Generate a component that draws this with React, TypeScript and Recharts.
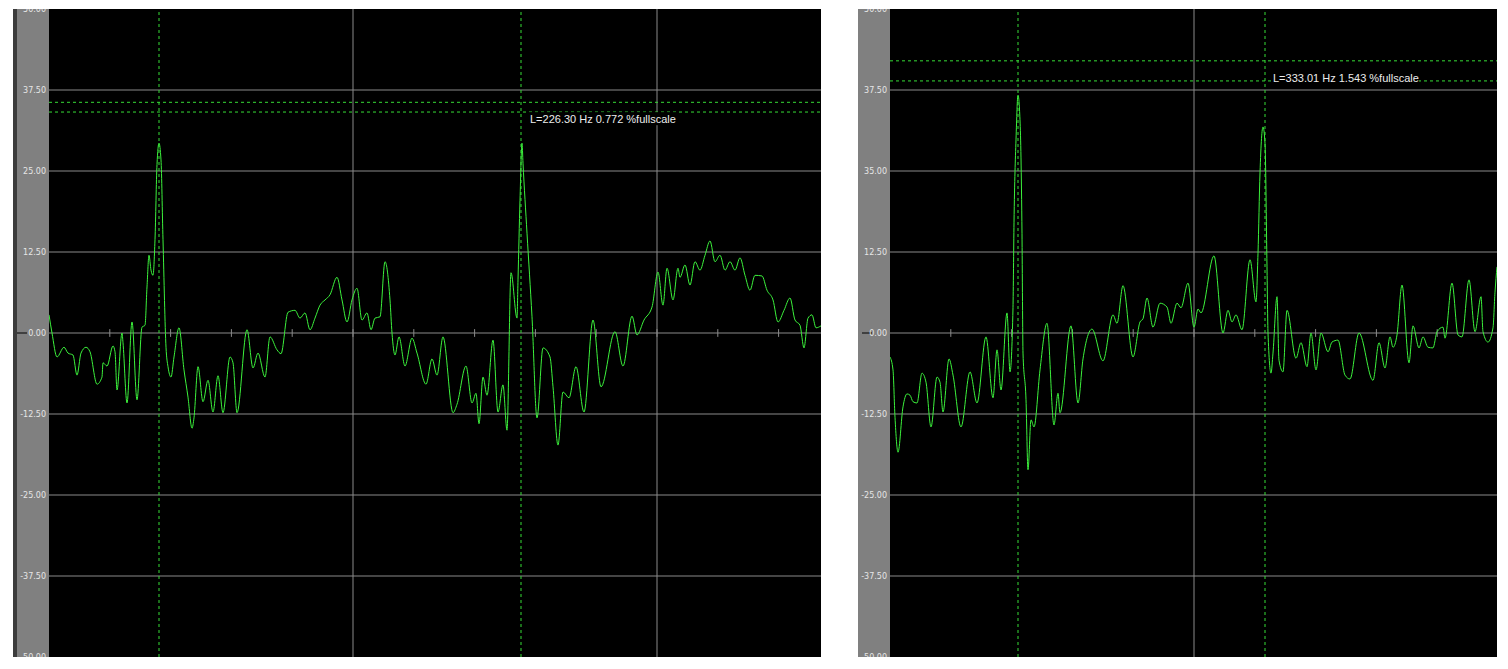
import {
  LineChart,
  Line,
  XAxis,
  YAxis,
  CartesianGrid,
  ReferenceLine,
  ReferenceDot,
} from "recharts";

const yTicks = [50, 37.5, 25, 12.5, 0, -12.5, -25, -37.5, -50];
const leftTickLabels = ["50.00", "37.50", "25.00", "12.50", "0.00", "-12.50", "-25.00", "-37.50", "-50.00"];
const rightTickLabels = ["50.00", "37.50", "35.00", "12.50", "0.00", "-12.50", "-25.00", "-37.50", "-50.00"];
const gridLevels = [37.5, 25, 12.5, 0, -12.5, -25, -37.5];
const majorBins = [304, 608];
const minorStep = 60.8;

// left spectrum
const leftBins = [
  0, 3, 8, 15, 19, 24, 28, 32, 37, 41, 48, 53, 54, 58, 64, 66, 68, 73, 74, 78,
  83, 88, 93, 96, 98, 100, 102, 104, 106, 108, 110, 112, 114, 117, 119, 122, 125, 130, 135, 139,
  143, 145, 149, 154, 159, 164, 169, 174, 181, 184, 188, 198, 204, 209, 216, 221, 228, 232, 239, 246,
  251, 256, 261, 266, 271, 276, 281, 288, 293, 298, 303, 308, 313, 318, 322, 326, 331, 336, 341, 343,
  346, 350, 356, 363, 368, 377, 383, 388, 394, 404, 408, 417, 423, 427, 430, 434, 438, 444, 449, 454,
  458, 462, 468, 469, 471, 473, 474, 478, 483, 488, 494, 501, 504, 509, 514, 520, 527, 535, 544, 552,
  566, 574, 583, 588, 595, 603, 609, 614, 618, 624, 629, 631, 636, 641, 646, 651, 656, 661, 666, 671,
  676, 681, 686, 691, 696, 701, 706, 713, 718, 724, 729, 735, 741, 746, 751, 755, 759, 763, 767, 772,
];
const leftLevels = [
  2.8, 0, -3.7, -2.2, -3.1, -3.4, -6.5, -3.1, -2.2, -2.9, -7.9, -6.8, -4.6, -5.1, -2.0, -2.9, -8.8, 0, -1.5, -10.8,
  1.7, -10.3, 0.9, 1.2, 7.1, 12.0, 9.7, 8.9, 14.4, 26.0, 29.3, 26.7, 14.4, -2.2, -5.2, -6.8, -3.7, 0.8, -5.7, -9.9,
  -14.7, -13.1, -5.2, -10.6, -7.3, -12.2, -6.6, -12.3, -3.7, -4.6, -12.3, 0.5, -5.4, -3.1, -6.8, -0.6, -2.6, -3.2, 3.2, 3.5,
  2.3, 3.1, 0.5, 2.3, 4.3, 5.1, 5.9, 8.6, 5.1, 1.7, 5.1, 6.9, 2.0, 3.1, 0.5, 2.3, 2.5, 11.0, 5.1, 0,
  -3.4, -0.6, -5.1, -0.8, -3.1, -7.9, -4.0, -6.5, -0.6, -12.3, -11.0, -5.1, -10.8, -9.3, -14.0, -6.8, -9.6, -1.1, -12.2, -8.0,
  -15.0, 9.3, 2.3, 8.2, 20.5, 29.3, 26.2, 15.4, 2.5, -13.1, -2.3, -3.7, -8.3, -17.3, -9.1, -10.0, -5.2, -12.2, 2.0, -8.3,
  0.2, -5.1, 2.6, -0.3, 2.0, 4.0, 9.4, 4.3, 10.0, 5.1, 10.0, 8.6, 10.5, 7.4, 11.0, 9.7, 12.0, 14.2, 11.0, 12.0,
  9.7, 11.0, 9.7, 11.6, 8.9, 6.6, 8.9, 8.8, 6.6, 5.1, 1.7, 3.5, 5.4, 2.0, 1.2, -2.3, 2.3, 2.8, 0.8, 1.1,
];

// right spectrum
const rightBins = [
  0, 3, 5, 8, 13, 17, 20, 23, 27, 32, 36, 41, 47, 50, 53, 59, 63, 71, 80, 87,
  96, 103, 107, 111, 117, 120, 123, 124, 126, 128, 130, 132, 133, 136, 138, 141, 144, 150, 157, 164,
  168, 170, 181, 188, 193, 202, 213, 223, 227, 233, 243, 250, 253, 257, 263, 270, 277, 281, 287, 291,
  298, 304, 308, 311, 324, 333, 338, 342, 346, 352, 360, 366, 368, 370, 373, 375, 377, 378, 381, 383,
  387, 389, 393, 397, 406, 411, 417, 421, 426, 431, 438, 442, 448, 455, 460, 469, 483, 489, 495, 500,
  503, 507, 512, 519, 523, 529, 533, 538, 543, 547, 553, 555, 562, 568, 572, 579, 585, 591, 593, 598,
  603, 605, 607,
];
const rightLevels = [
  -3.7, -5.7, -13.0, -18.4, -11.4, -9.4, -9.6, -10.6, -10.8, -6.2, -7.6, -14.5, -6.8, -7.6, -12.2, -4.0, -6.5, -14.5, -6.0, -10.8,
  -0.6, -10.0, -2.6, -8.8, 3.1, -6.0, 3.9, 17.0, 29.8, 36.7, 32.9, 15.4, -3.1, -10.3, -21.1, -13.4, -14.5, -5.7, 1.5, -14.2,
  -9.3, -12.3, 1.1, -10.8, -4.0, 0.6, -4.3, 2.8, 1.5, 7.3, -3.7, 1.7, 2.2, 5.4, 0.9, 4.6, 4.0, 1.5, 4.6, 3.9,
  7.7, 0.9, 3.7, 3.1, 11.9, 0, 3.5, 1.7, 2.8, 0.5, 11.3, 4.8, 12.3, 24.7, 31.8, 29.3, 10.2, 0, -6.2, -3.1,
  5.6, -4.2, -6.0, 3.5, -3.9, -1.5, -5.2, 0, -5.7, 0, -2.9, -1.4, -1.1, -6.5, -7.1, 0, -7.3, -1.5, -5.4, -0.6,
  -2.2, -0.3, 7.4, -4.6, 1.1, -2.3, -0.6, -2.2, -2.3, 0.2, 0.9, -0.8, 7.7, -0.3, -0.6, 8.2, 0.2, 5.6, 0.2, -1.4,
  0.8, 6.3, 10.2,
];

type Panel = {
  left: number;
  axisWidth: number;
  plotBins: number;
  edge: boolean;
  bins: number[];
  levels: number[];
  tickLabels: string[];
  cursorBins: number[];
  cursorLevels: number[];
  readout: string;
  readoutBin: number;
  readoutLevel: number;
  readoutWidth: number;
};

const panels: Panel[] = [
  {
    left: 13,
    axisWidth: 36,
    plotBins: 772,
    edge: true,
    bins: leftBins,
    levels: leftLevels,
    tickLabels: leftTickLabels,
    cursorBins: [110, 472],
    cursorLevels: [35.6, 34.1],
    readout: "L=226.30 Hz 0.772 %fullscale",
    readoutBin: 481,
    readoutLevel: 33.0,
    readoutWidth: 148,
  },
  {
    left: 858,
    axisWidth: 32,
    plotBins: 607,
    edge: false,
    bins: rightBins,
    levels: rightLevels,
    tickLabels: rightTickLabels,
    cursorBins: [128, 375],
    cursorLevels: [42.0, 38.9],
    readout: "L=333.01 Hz 1.543 %fullscale",
    readoutBin: 383,
    readoutLevel: 39.4,
    readoutWidth: 148,
  },
];

const HEIGHT = 648;
const TOP = 9;
const TRACE = "#3cf23c";
const CURSOR = "#36dc36";
const GRID = "#8a8a8a";

function SpectrumPanel({ panel }: { panel: Panel }) {
  const data = panel.bins.map((bin, i) => ({ bin, level: panel.levels[i] }));
  const width = panel.axisWidth + panel.plotBins;
  const minor: number[] = [];
  for (let b = minorStep; b < panel.plotBins; b += minorStep) minor.push(b);

  const renderTick = (props: any) => {
    const { y, payload } = props;
    const idx = yTicks.indexOf(payload.value);
    return (
      <g>
        {payload.value === 0 && (
          <line x1={4} x2={14} y1={y} y2={y} stroke="#000" strokeWidth={1} />
        )}
        <text
          x={panel.axisWidth - 3}
          y={y}
          dy={3}
          textAnchor="end"
          fill="#e6e6e6"
          fontSize={8}
          fontFamily="DejaVu Sans"
        >
          {panel.tickLabels[idx]}
        </text>
      </g>
    );
  };

  return (
    <div
      style={{
        position: "absolute",
        left: panel.left,
        top: TOP,
        width,
        height: HEIGHT,
        background: "#808080",
        overflow: "hidden",
      }}
    >
      {panel.edge && (
        <div
          style={{ position: "absolute", left: 0, top: 0, width: 4, height: HEIGHT, background: "#3c3c3c" }}
        />
      )}
      <div style={{ position: "absolute", left: 0, top: 0 }}>
        <LineChart width={width} height={HEIGHT} data={data} margin={{ top: 0, right: 0, bottom: 0, left: 0 }}>
          <CartesianGrid horizontal={false} vertical={false} fill="#000" fillOpacity={1} />
          <XAxis type="number" dataKey="bin" domain={[0, panel.plotBins]} hide allowDataOverflow />
          <YAxis
            type="number"
            domain={[-50, 50]}
            ticks={yTicks}
            interval={0}
            width={panel.axisWidth}
            axisLine={false}
            tickLine={false}
            tick={renderTick}
            allowDataOverflow
          />
          {gridLevels.map((v) => (
            <ReferenceLine key={"h" + v} y={v} stroke={GRID} strokeWidth={1} />
          ))}
          {majorBins
            .filter((b) => b < panel.plotBins)
            .map((b) => (
              <ReferenceLine key={"v" + b} x={b} stroke={GRID} strokeWidth={1} />
            ))}
          {minor.map((b) => (
            <ReferenceLine
              key={"m" + b}
              segment={[
                { x: b, y: -0.6 },
                { x: b, y: 0.6 },
              ]}
              stroke={GRID}
              strokeWidth={1}
            />
          ))}
          {panel.cursorLevels.map((v) => (
            <ReferenceLine key={"ch" + v} y={v} stroke={CURSOR} strokeDasharray="3 3" strokeWidth={1} />
          ))}
          {panel.cursorBins.map((b) => (
            <ReferenceLine key={"cv" + b} x={b} stroke={CURSOR} strokeDasharray="3 3" strokeWidth={1} />
          ))}
          <Line
            type="monotone"
            dataKey="level"
            stroke={TRACE}
            strokeWidth={1}
            dot={false}
            isAnimationActive={false}
          />
          <ReferenceDot
            x={panel.readoutBin}
            y={panel.readoutLevel}
            r={0}
            ifOverflow="visible"
            shape={(p: any) => (
              <g>
                <rect x={p.cx - 2} y={p.cy - 7} width={panel.readoutWidth} height={13} fill="#000" />
                <text
                  x={p.cx}
                  y={p.cy}
                  dy={4}
                  fill="#ececec"
                  fontSize={11}
                  fontFamily="Liberation Sans"
                >
                  {panel.readout}
                </text>
              </g>
            )}
          />
        </LineChart>
      </div>
    </div>
  );
}

export default function App() {
  return (
    <div style={{ position: "absolute", left: 0, top: 0, width: 1508, height: 669, background: "#fff" }}>
      {panels.map((p) => (
        <SpectrumPanel key={p.left} panel={p} />
      ))}
    </div>
  );
}
